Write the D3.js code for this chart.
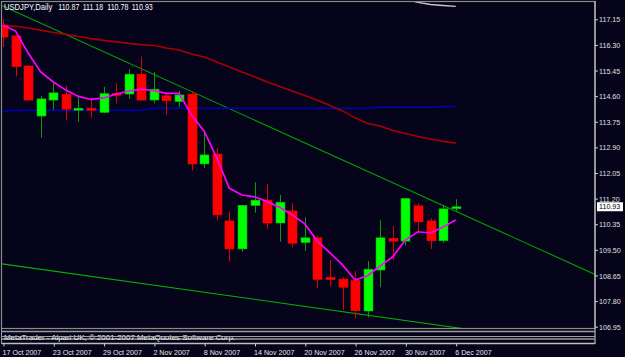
<!DOCTYPE html>
<meta charset=utf-8>
<script src="https://cdn.jsdelivr.net/npm/d3@7"></script>
<style>
body { margin: 0; background: #05041a }
svg { display: block; font-family: "Liberation Sans", sans-serif }
</style>
<body>
<svg id=chart width=625 height=357></svg>
<script>
// daily bars, 17 Oct 2007 -> 6 Dec 2007
const dates = ["17 Oct 2007","18 Oct 2007","19 Oct 2007","22 Oct 2007","23 Oct 2007","24 Oct 2007","25 Oct 2007","26 Oct 2007",
	"29 Oct 2007","30 Oct 2007","31 Oct 2007","1 Nov 2007","2 Nov 2007","5 Nov 2007","6 Nov 2007","7 Nov 2007","8 Nov 2007",
	"9 Nov 2007","12 Nov 2007","13 Nov 2007","14 Nov 2007","15 Nov 2007","16 Nov 2007","19 Nov 2007","20 Nov 2007","21 Nov 2007",
	"22 Nov 2007","23 Nov 2007","26 Nov 2007","27 Nov 2007","28 Nov 2007","29 Nov 2007","30 Nov 2007","3 Dec 2007","4 Dec 2007",
	"5 Dec 2007","6 Dec 2007"];
const open  = [116.96,116.60,115.60,113.94,114.47,114.66,114.14,114.20,114.06,114.69,114.67,115.33,114.47,114.61,114.42,114.67,112.35,
	112.68,110.46,109.53,110.97,111.15,110.39,110.79,109.74,109.90,108.59,108.53,108.48,107.47,108.83,109.88,109.79,110.96,110.46,109.80,110.87];
const high  = [117.16,116.62,115.63,114.61,115.05,114.94,114.58,114.54,114.91,115.03,115.50,115.91,115.41,114.71,114.78,114.76,113.39,
	112.89,110.77,110.99,111.74,111.69,111.32,111.05,110.58,109.97,109.16,108.59,108.80,109.13,110.49,110.29,111.22,111.05,110.55,110.99,111.18];
const low   = [116.23,115.25,114.45,113.22,114.14,113.79,113.75,113.88,114.03,114.36,114.51,114.45,114.36,113.97,114.25,112.13,112.21,
	110.47,109.11,109.44,110.73,110.19,109.77,109.59,109.47,108.22,108.28,107.50,107.23,107.26,108.26,109.16,109.64,110.10,109.53,109.74,110.78];
const close = [116.56,115.58,114.47,114.51,114.71,114.17,114.20,114.14,114.69,114.64,115.33,114.47,114.83,114.45,114.64,112.35,112.65,
	110.66,109.53,110.98,111.15,110.39,111.08,109.72,109.90,108.52,108.51,108.26,107.48,108.86,109.90,109.79,111.21,110.43,109.80,110.86,110.93];
// moving averages
const maFast = [116.96,116.76,116.03,115.40,115.07,114.80,114.59,114.49,114.54,114.67,114.77,114.83,114.78,114.69,114.69,113.97,113.44,
	112.55,111.54,111.32,111.26,111.10,110.91,110.66,110.36,109.79,109.40,109.00,108.50,108.64,108.97,109.27,109.83,110.10,110.06,110.26,110.49];
const maSlow = [116.94,116.92,116.86,116.79,116.71,116.65,116.58,116.51,116.45,116.40,116.35,116.31,116.28,116.20,116.13,116.00,115.90,
	115.73,115.57,115.40,115.24,115.07,114.92,114.77,114.62,114.46,114.29,114.11,113.88,113.69,113.61,113.46,113.36,113.26,113.18,113.10,113.04];
const maLong = [114.10,114.13,114.13,114.13,114.13,114.13,114.13,114.13,114.13,114.13,114.13,114.13,114.20,114.20,114.20,114.20,114.20,
	114.20,114.20,114.20,114.20,114.20,114.20,114.20,114.20,114.20,114.20,114.20,114.20,114.20,114.23,114.23,114.23,114.23,114.23,114.26,114.26];
const maTop = [null,null,null,null,null,null,null,null,null,null,null,null,null,null,null,null,null,null,null,null,null,null,null,null,
	null,null,null,null,null,null,null,null,117.82,117.71,117.64,117.61,117.58];
// trend lines: [bar, price] anchors
const trendUpper = [[0,117.59],[36,110.78]];
const trendLower = [[0,109.03],[36,106.92]];
const priceTicks = [117.15,116.30,115.45,114.60,113.75,112.90,112.05,111.20,110.35,109.50,108.65,107.80,106.95];
const dateTicks = d3.range(0, 37, 4);

const W = 625, H = 357,
	plot = {left: 2, right: 595, top: 2, bottom: 328};
const svg = d3.select("#chart");

const x = d3.scaleLinear().domain([0, 36]).range([3, 455.7]);
const y = d3.scaleLinear().domain([106.95, 117.15]).range([326.7, 19.3]);

// squeeze text a bit, MT4 uses a narrow bitmap font
function narrow(sel, k = 0.89) {
	sel.each(function () {
		const w = this.getComputedTextLength();
		d3.select(this).attr("textLength", w * k).attr("lengthAdjust", "spacingAndGlyphs");
	});
}

svg.append("rect").attr("width", W).attr("height", H).attr("fill", "#05041a");

svg.append("clipPath").attr("id", "clip")
	.append("rect")
		.attr("x", plot.left).attr("y", plot.top)
		.attr("width", plot.right - plot.left).attr("height", plot.bottom - plot.top);

const g = svg.append("g").attr("clip-path", "url(#clip)");

// trend lines, extended to the right edge
const xEnd = x.invert(plot.right);
function ray(a, b) {
	const slope = (b[1] - a[1]) / (b[0] - a[0]);
	return [[a[0] - 1, a[1] - slope], [xEnd, a[1] + slope * (xEnd - a[0])]];
}
g.append("path")
	.attr("d", d3.line(d => x(d[0]), d => y(d[1]))(ray(...trendUpper)))
	.attr("stroke", "#00a000").attr("stroke-width", 1.1).attr("fill", "none");
g.append("path")
	.attr("d", d3.line(d => x(d[0]), d => y(d[1]))(ray(...trendLower)))
	.attr("stroke", "#00b400").attr("stroke-width", 1.1).attr("fill", "none");

// moving averages
const maLine = d3.line().defined(d => d != null).x((d, i) => x(i)).y(d => y(d));
g.append("path").attr("d", maLine(maLong)).attr("stroke", "#0000c0").attr("stroke-width", 1.4).attr("fill", "none");
g.append("path").attr("d", maLine(maSlow)).attr("stroke", "#a80000").attr("stroke-width", 1.6).attr("fill", "none");
g.append("path").attr("d", maLine(maTop)).attr("stroke", "#c8c8c8").attr("stroke-width", 1.4).attr("fill", "none");

// candles
const bars = d3.range(dates.length);
const up = i => close[i] >= open[i];
g.append("g")
	.selectAll("line")
	.data(bars)
	.join("line")
		.attr("x1", i => Math.round(x(i)) + 0.5)
		.attr("x2", i => Math.round(x(i)) + 0.5)
		.attr("y1", i => y(high[i]))
		.attr("y2", i => y(low[i]))
		.attr("stroke", i => up(i) ? "#00a000" : "#e00000")
		.attr("stroke-width", 1);
g.append("g")
	.selectAll("rect")
	.data(bars)
	.join("rect")
		.attr("x", i => Math.round(x(i)) - 4)
		.attr("width", 9)
		.attr("y", i => y(Math.max(open[i], close[i])))
		.attr("height", i => Math.max(2, Math.abs(y(open[i]) - y(close[i]))))
		.attr("fill", i => up(i) ? "#00ff00" : "#ff0000")
		.attr("stroke", i => up(i) ? "#00b000" : "#ff0000")
		.attr("stroke-width", 0.6);

g.append("path").attr("d", maLine(maFast)).attr("stroke", "#ff00ff").attr("stroke-width", 1.7).attr("fill", "none");

// frame and sub window separators
svg.append("rect")
	.attr("x", 1.5).attr("y", 1.5).attr("width", plot.right - 1.5).attr("height", plot.bottom - 1)
	.attr("fill", "none").attr("stroke", "#8a8a8a").attr("stroke-width", 1.2);
svg.append("line").attr("x1", plot.right).attr("x2", plot.right).attr("y1", 1).attr("y2", 344)
	.attr("stroke", "#d8d8d8").attr("stroke-width", 1);
for (const [yy, c] of [[331.5, "#9a9a9a"], [339, "#9a9a9a"], [343.5, "#bdbdbd"]])
	svg.append("line").attr("x1", 1.5).attr("x2", plot.right).attr("y1", yy).attr("y2", yy)
		.attr("stroke", c).attr("stroke-width", 1.3);
svg.append("line").attr("x1", 1.5).attr("x2", 1.5).attr("y1", 328).attr("y2", 344).attr("stroke", "#9a9a9a");
svg.append("text")
	.attr("x", 4).attr("y", 339.5)
	.attr("fill", "#f0f0f0").attr("font-size", 8)
	.attr("textLength", 231).attr("lengthAdjust", "spacingAndGlyphs")
	.text("MetaTrader - Alpari UK, © 2001-2007 MetaQuotes Software Corp.");
svg.append("line").attr("x1", 1.5).attr("x2", plot.right).attr("y1", 336.5).attr("y2", 336.5)
	.attr("stroke", "#a0a0a0").attr("stroke-width", 1.2);

// price axis
svg.append("g")
	.attr("transform", `translate(${plot.right},0)`)
	.call(d3.axisRight(y).tickValues(priceTicks).tickFormat(d3.format(".2f")).tickSize(3).tickPadding(1))
	.call(a => a.select(".domain").remove())
	.call(a => a.selectAll("line").attr("stroke", "#d0d0d0"))
	.call(a => a.selectAll("text").attr("fill", "#e0e0e0").attr("font-size", 8).attr("font-family", "Liberation Sans").call(narrow));

// last price tag
const last = close[close.length - 1];
svg.append("rect")
	.attr("x", 597).attr("y", y(last) - 4.5).attr("width", 26).attr("height", 9)
	.attr("fill", "#ffffff");
svg.append("text")
	.attr("x", 599).attr("y", y(last)).attr("dy", "0.34em")
	.attr("fill", "#000").attr("font-size", 8)
	.text(d3.format(".2f")(last))
	.call(narrow);

// date axis
svg.append("g")
	.attr("transform", "translate(0,343.5)")
	.call(d3.axisBottom(x).tickValues(dateTicks).tickFormat(i => dates[i]).tickSize(3).tickPadding(3))
	.call(a => a.select(".domain").remove())
	.call(a => a.selectAll("line").attr("stroke", "#d0d0d0").attr("transform", "translate(0.5,0)"))
	.call(a => a.selectAll("text").attr("fill", "#e8e8e8").attr("font-size", 8)
		.attr("font-family", "Liberation Sans").attr("text-anchor", "start").attr("x", -1).call(narrow));

// header
const hdr = svg.append("g").attr("fill", "#ffffff").attr("font-size", 8.3);
hdr.append("text").attr("x", 4).attr("y", 10).text("USDJPY,Daily").call(narrow, 0.92);
const ohlcLast = [open, high, low, close].map(s => s[s.length - 1]);
[58.3, 82.7, 107.3, 131.7].forEach((xx, k) =>
	hdr.append("text").attr("x", xx).attr("y", 10).text(d3.format(".2f")(ohlcLast[k])).call(narrow, 0.85));
</script>
</body>
